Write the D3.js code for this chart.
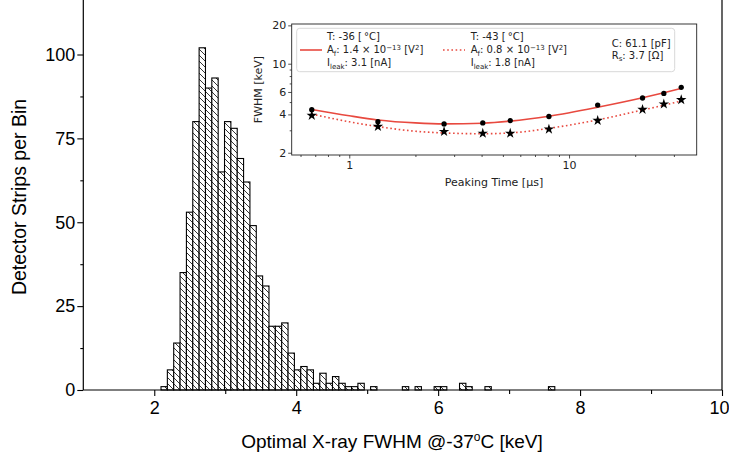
<!DOCTYPE html>
<html>
<head>
<meta charset="utf-8">
<script src="https://cdn.jsdelivr.net/npm/d3@7"></script>
<style>
  body { margin: 0; background: #fff; }
  svg { display: block; }
  .main text { font-family: "Liberation Sans", Arial, sans-serif; fill: #000; }
  .inset text { font-family: "DejaVu Sans", sans-serif; fill: #222; }
</style>
</head>
<body>
<svg id="chart" width="729" height="455"></svg>
<script>
// histogram (keV bins, strips per bin)
const binStart = 2.095;
const binWidth = 0.0895;
const counts = [1, 6, 14, 35, 53, 80, 102, 90, 93, 65, 80, 78, 69, 62, 49, 34, 31, 19, 19, 20,
  11, 6, 7, 6, 2, 5, 2, 4, 2, 1, 1, 2, 0, 1, 0, 0, 0, 0, 1, 0,
  1, 0, 0, 1, 1, 0, 0, 2, 1, 0, 0, 1, 0, 0, 0, 0, 0, 0, 0, 0, 0, 1];
const xTicks = [2, 4, 6, 8, 10];
const xMinor = [3, 5, 7, 9];
const yTicks = [0, 25, 50, 75, 100];
const yMinor = [12.5, 37.5, 62.5, 87.5];

// inset: FWHM vs peaking time
const peakTimes = [0.675, 1.35, 2.7, 4.05, 5.4, 8.1, 13.5, 21.6, 27, 32.4];
const fwhm36 = [4.35, 3.51, 3.37, 3.43, 3.58, 3.85, 4.73, 5.38, 5.84, 6.52];
const fwhm43 = [3.92, 3.21, 2.93, 2.84, 2.84, 3.06, 3.58, 4.37, 4.82, 5.21];
const fitTimes = [0.675, 1, 1.35, 2, 2.7, 4.05, 5.4, 8.1, 13.5, 21.6, 27, 32.4];
const fit36 = [4.37, 3.9, 3.62, 3.43, 3.37, 3.41, 3.54, 3.87, 4.55, 5.4, 5.92, 6.4];
const fit43 = [4.02, 3.5, 3.21, 2.95, 2.86, 2.82, 2.86, 3.11, 3.62, 4.33, 4.72, 5.1];
const insetYTicks = [2, 4, 6, 10, 20];
const insetYMinor = [3, 5, 7, 8, 9];
const insetXTicks = [1, 10];
const insetXMinor = [0.6, 0.7, 0.8, 0.9, 2, 3, 4, 5, 6, 7, 8, 9, 20, 30];

const red = '#e8493f';
const svg = d3.select('#chart');

// hatch for bars
const defs = svg.append('defs');
const pat = defs.append('pattern')
  .attr('id', 'hatch')
  .attr('patternUnits', 'userSpaceOnUse')
  .attr('width', 6).attr('height', 6);
pat.append('rect').attr('width', 6).attr('height', 6).attr('fill', '#fff');
pat.append('path')
  .attr('d', 'M-1,-1 L7,7 M-1,5 L1,7 M5,-1 L7,1')
  .attr('stroke', '#000').attr('stroke-width', 0.8);

// ---------- main histogram ----------
const main = svg.append('g').attr('class', 'main');
const x = d3.scaleLinear().domain([1, 10]).range([83.3, 722]);
const y = d3.scaleLinear().domain([0, 100]).range([390, 54.5]);

const bins = counts.map((c, i) => ({ x0: binStart + i * binWidth, c: c })).filter(d => d.c > 0);

main.selectAll('rect.bar')
  .data(bins)
  .enter()
  .append('rect')
  .attr('class', 'bar')
  .attr('x', d => x(d.x0))
  .attr('y', d => y(d.c))
  .attr('width', d => x(d.x0 + binWidth) - x(d.x0))
  .attr('height', d => y(0) - y(d.c))
  .attr('fill', 'url(#hatch)')
  .attr('stroke', '#000')
  .attr('stroke-width', 1.1);

// spines
main.append('line').attr('x1', x(1)).attr('x2', x(1)).attr('y1', -2).attr('y2', y(0))
  .attr('stroke', '#000').attr('stroke-width', 1.2);
main.append('line').attr('x1', x(10)).attr('x2', x(10)).attr('y1', -2).attr('y2', y(0))
  .attr('stroke', '#000').attr('stroke-width', 1.2);
main.append('line').attr('x1', x(1)).attr('x2', x(10)).attr('y1', y(0)).attr('y2', y(0))
  .attr('stroke', '#000').attr('stroke-width', 1.2);

function styleAxis(g, size) {
  g.select('.domain').remove();
  g.selectAll('line').attr('stroke', '#000').attr('stroke-width', 1.1);
  g.selectAll('text').style('font-size', size + 'px');
}

main.append('g')
  .attr('transform', `translate(0,${y(0)})`)
  .call(d3.axisBottom(x).tickValues(xTicks).tickSize(6).tickPadding(5))
  .call(g => styleAxis(g, 18))
  // last label sits on the picture's edge: keep it inside
  .call(g => g.selectAll('.tick text').filter(d => d === 10).attr('text-anchor', 'end').attr('x', 7));
main.append('g')
  .attr('transform', `translate(0,${y(0)})`)
  .call(d3.axisBottom(x).tickValues(xMinor).tickSize(4).tickFormat(''))
  .call(g => styleAxis(g, 18));
main.append('g')
  .attr('transform', `translate(${x(1)},0)`)
  .call(d3.axisLeft(y).tickValues(yTicks).tickSize(6).tickPadding(2))
  .call(g => styleAxis(g, 18));
main.append('g')
  .attr('transform', `translate(${x(1)},0)`)
  .call(d3.axisLeft(y).tickValues(yMinor).tickSize(3).tickFormat(''))
  .call(g => styleAxis(g, 18));

main.append('text')
  .attr('transform', 'translate(26,197) rotate(-90)')
  .attr('text-anchor', 'middle')
  .style('font-size', '19.5px')
  .text('Detector Strips per Bin');

const xl = main.append('text')
  .attr('x', 392).attr('y', 448)
  .attr('text-anchor', 'middle')
  .style('font-size', '19px');
xl.append('tspan').text('Optimal X-ray FWHM @-37');
xl.append('tspan').attr('dy', -7).style('font-size', '12px').text('o');
xl.append('tspan').attr('dy', 7).text('C [keV]');

// ---------- inset ----------
const inset = svg.append('g').attr('class', 'inset');
const ix = d3.scaleLog().domain([0.547, 38.1]).range([291.7, 696.7]);
const iy = d3.scaleLog().domain([1.92, 20.5]).range([155, 24]);

inset.append('rect')
  .attr('x', ix.range()[0]).attr('y', iy.range()[1])
  .attr('width', ix.range()[1] - ix.range()[0])
  .attr('height', iy.range()[0] - iy.range()[1])
  .attr('fill', '#fff');

function styleInset(g) {
  g.select('.domain').remove();
  g.selectAll('line').attr('stroke', '#222').attr('stroke-width', 0.8);
  g.selectAll('text').style('font-size', '11px').attr('fill', '#222');
}

inset.append('g')
  .attr('transform', `translate(0,${iy.range()[0]})`)
  .call(d3.axisBottom(ix).tickValues(insetXTicks).tickSize(3.5).tickPadding(3).tickFormat(d3.format('d')))
  .call(styleInset);
inset.append('g')
  .attr('transform', `translate(0,${iy.range()[0]})`)
  .call(d3.axisBottom(ix).tickValues(insetXMinor).tickSize(2).tickFormat(''))
  .call(styleInset);
inset.append('g')
  .attr('transform', `translate(${ix.range()[0]},0)`)
  .call(d3.axisLeft(iy).tickValues(insetYTicks).tickSize(3.5).tickPadding(2).tickFormat(d3.format('d')))
  .call(styleInset);
inset.append('g')
  .attr('transform', `translate(${ix.range()[0]},0)`)
  .call(d3.axisLeft(iy).tickValues(insetYMinor).tickSize(2).tickFormat(''))
  .call(styleInset);

const line = d3.line()
  .x(d => ix(d[0]))
  .y(d => iy(d[1]))
  .curve(d3.curveMonotoneX);

inset.append('path')
  .datum(fitTimes.map((t, i) => [t, fit36[i]]))
  .attr('d', line)
  .attr('fill', 'none')
  .attr('stroke', red)
  .attr('stroke-width', 1.6);
inset.append('path')
  .datum(fitTimes.map((t, i) => [t, fit43[i]]))
  .attr('d', line)
  .attr('fill', 'none')
  .attr('stroke', red)
  .attr('stroke-width', 1.6)
  .attr('stroke-dasharray', '1.6,2.6');

inset.selectAll('path.dot')
  .data(peakTimes.map((t, i) => [t, fwhm36[i]]))
  .enter()
  .append('path')
  .attr('class', 'dot')
  .attr('transform', d => `translate(${ix(d[0])},${iy(d[1])})`)
  .attr('d', d3.symbol(d3.symbolCircle, 22))
  .attr('fill', '#000');
inset.selectAll('path.star')
  .data(peakTimes.map((t, i) => [t, fwhm43[i]]))
  .enter()
  .append('path')
  .attr('class', 'star')
  .attr('transform', d => `translate(${ix(d[0])},${iy(d[1])})`)
  .attr('d', d3.symbol(d3.symbolStar, 34))
  .attr('fill', '#000');

// frame
inset.append('rect')
  .attr('x', ix.range()[0]).attr('y', iy.range()[1])
  .attr('width', ix.range()[1] - ix.range()[0])
  .attr('height', iy.range()[0] - iy.range()[1])
  .attr('fill', 'none')
  .attr('stroke', '#222')
  .attr('stroke-width', 0.9);

inset.append('text')
  .attr('transform', 'translate(262,89.5) rotate(-90)')
  .attr('text-anchor', 'middle')
  .style('font-size', '11px')
  .text('FWHM [keV]');
inset.append('text')
  .attr('x', 494).attr('y', 186)
  .attr('text-anchor', 'middle')
  .style('font-size', '11px')
  .text('Peaking Time [μs]');

// legend
const leg = inset.append('g');
leg.append('rect')
  .attr('x', 296.7).attr('y', 28.3)
  .attr('width', 378).attr('height', 43.4)
  .attr('rx', 3)
  .attr('fill', '#fff')
  .attr('stroke', '#d4d4d4')
  .attr('stroke-width', 0.9);
leg.append('line').attr('x1', 300).attr('x2', 322).attr('y1', 50).attr('y2', 50)
  .attr('stroke', red).attr('stroke-width', 1.6);
leg.append('line').attr('x1', 443).attr('x2', 465).attr('y1', 50).attr('y2', 50)
  .attr('stroke', red).attr('stroke-width', 1.6).attr('stroke-dasharray', '1.6,2.6');

function rich(x0, y0, parts) {
  const t = leg.append('text').attr('x', x0).attr('y', y0).style('font-size', '10px');
  let shift = 0;
  parts.forEach(p => {
    const target = p.sub ? 2.5 : p.sup ? -3.5 : 0;
    const s = t.append('tspan').attr('dy', target - shift).text(p.t);
    if (p.sub || p.sup) s.style('font-size', '7px');
    shift = target;
  });
}

rich(327, 39.5, [{ t: 'T: -36 [\u2009°C]' }]);
rich(327, 53, [{ t: 'A' }, { t: 'f', sub: true }, { t: ': 1.4 × 10' }, { t: '−13', sup: true }, { t: ' [V' }, { t: '2', sup: true }, { t: ']' }]);
rich(327, 66, [{ t: 'I' }, { t: 'leak', sub: true }, { t: ': 3.1 [nA]' }]);
rich(470.7, 39.5, [{ t: 'T: -43 [\u2009°C]' }]);
rich(470.7, 53, [{ t: 'A' }, { t: 'f', sub: true }, { t: ': 0.8 × 10' }, { t: '−13', sup: true }, { t: ' [V' }, { t: '2', sup: true }, { t: ']' }]);
rich(470.7, 66, [{ t: 'I' }, { t: 'leak', sub: true }, { t: ': 1.8 [nA]' }]);
rich(611.7, 46.8, [{ t: 'C: 61.1 [pF]' }]);
rich(611.7, 58.5, [{ t: 'R' }, { t: 's', sub: true }, { t: ': 3.7 [Ω]' }]);
</script>
</body>
</html>
